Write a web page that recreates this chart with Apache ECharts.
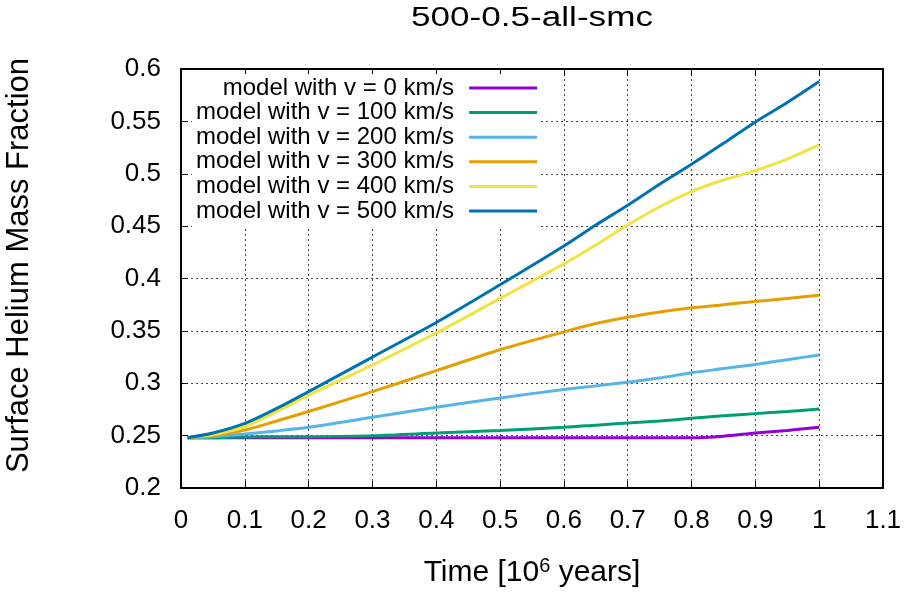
<!DOCTYPE html>
<html>
<head>
<meta charset="utf-8">
<script src="https://cdn.jsdelivr.net/npm/echarts@6/dist/echarts.min.js"></script>
<style>
html,body{margin:0;padding:0;background:#fff;}
#chart{width:906px;height:599px;}
</style>
</head>
<body>
<div id="chart"></div>
<script>
const chartTitle = '500-0.5-all-smc';
const seriesNames = ['model with v = 0 km/s','model with v = 100 km/s','model with v = 200 km/s','model with v = 300 km/s','model with v = 400 km/s','model with v = 500 km/s'];
const times = [0.01, 0.05, 0.1, 0.15, 0.2, 0.3, 0.4, 0.5, 0.6, 0.65, 0.7, 0.75, 0.8, 0.85, 0.9, 0.95, 1.0];
const v0   = [0.248,0.248,0.248,0.248,0.248,0.248,0.248,0.248,0.248,0.248,0.248,0.248,0.248,0.2495,0.2525,0.255,0.258];
const v100 = [0.248,0.248,0.2488,0.2489,0.249,0.2500,0.2525,0.255,0.258,0.260,0.262,0.264,0.2665,0.269,0.271,0.273,0.2755];
const v200 = [0.248,0.249,0.2516,0.2545,0.258,0.2675,0.277,0.286,0.294,0.2975,0.301,0.305,0.310,0.314,0.318,0.3225,0.327];
const v300 = [0.248,0.250,0.2553,0.264,0.273,0.292,0.312,0.332,0.349,0.357,0.363,0.368,0.372,0.375,0.378,0.381,0.384];
const v400 = [0.248,0.251,0.2585,0.273,0.2885,0.3175,0.348,0.381,0.414,0.432,0.451,0.4685,0.483,0.494,0.503,0.514,0.5275];
const v500 = [0.248,0.2525,0.2617,0.276,0.292,0.325,0.358,0.394,0.431,0.451,0.470,0.490,0.509,0.529,0.5495,0.568,0.588];
const xTicks = [0,0.1,0.2,0.3,0.4,0.5,0.6,0.7,0.8,0.9,1.0,1.1];
const yTicks = [0.2,0.25,0.3,0.35,0.4,0.45,0.5,0.55,0.6];

const colors = ['#9400d3','#009e73','#56b4e9','#e69f00','#f0e442','#0072b2'];
const allValues = [v0,v100,v200,v300,v400,v500];
const FONT = '"Liberation Sans", Arial, Helvetica, sans-serif';

const chart = echarts.init(document.getElementById('chart'), null, {renderer:'canvas'});

const series = allValues.map((vals, i) => ({
  name: seriesNames[i],
  type: 'line',
  data: times.map((t, k) => [t, vals[k]]),
  symbol: 'none',
  smooth: 0.3,
  lineStyle: {color: colors[i], width: 3},
  itemStyle: {color: colors[i]},
  z: 2 + i,
  animation: false
}));

const gridLine = {show: true, lineStyle: {color: '#444', width: 1, type: [2, 3]}};

const option = {
  animation: false,
  backgroundColor: '#fff',
  graphic: [{
    type: 'text',
    x: 532, y: 19,
    scaleX: 1.3,
    style: {text: chartTitle, font: '27px ' + FONT, fill: '#000', align: 'center', verticalAlign: 'middle'}
  }],
  grid: {left: 181, right: 23, top: 69, bottom: 111, containLabel: false, outerBoundsMode: 'none'},
  legend: {
    orient: 'vertical',
    align: 'right',
    left: 192,
    top: 74,
    padding: [2, 4, 6, 4],
    backgroundColor: '#fff',
    itemWidth: 68,
    itemHeight: 12,
    itemGap: 0.6,
    z: 10,
    textStyle: {fontFamily: FONT, fontSize: 24, color: '#000', lineHeight: 24, padding: [0, 10, 0, 0]},
    data: seriesNames.map(n => ({name: n, icon: 'path://M0,0L68,0L68,3L0,3Z'})),
    selectedMode: false
  },
  xAxis: [{
    type: 'value', min: 0, max: 1.1, interval: 0.1, position: 'bottom',
    axisLine: {show: true, onZero: false, lineStyle: {color: '#000', width: 2}},
    axisTick: {show: true, inside: true, length: 7, lineStyle: {color: '#000', width: 1}},
    axisLabel: {margin: 20, fontFamily: FONT, fontSize: 26, color: '#000',
      formatter: v => { const r = Math.round(v*10)/10; return xTicks.indexOf(r) >= 0 ? String(r) : ''; }},
    splitLine: gridLine,
    name: '{a|Time [10}{s|6}{a| years]}',
    nameLocation: 'middle', nameGap: 68,
    nameTextStyle: {rich: {a: {fontFamily: FONT, fontSize: 30, color: '#000'}, s: {fontFamily: FONT, fontSize: 20, color: '#000', padding: [0, 0, 14, 0]}}}
  }, {
    type: 'value', min: 0, max: 1.1, interval: 0.1, position: 'top',
    axisLine: {show: true, onZero: false, lineStyle: {color: '#000', width: 2}},
    axisTick: {show: true, inside: true, length: 7, lineStyle: {color: '#000', width: 1}},
    axisLabel: {show: false}, splitLine: {show: false}
  }],
  yAxis: [{
    type: 'value', min: 0.2, max: 0.6, interval: 0.05, position: 'left',
    axisLine: {show: true, onZero: false, lineStyle: {color: '#000', width: 2}},
    axisTick: {show: true, inside: true, length: 7, lineStyle: {color: '#000', width: 1}},
    axisLabel: {margin: 20, fontFamily: FONT, fontSize: 26, color: '#000',
      formatter: v => { const r = Math.round(v*100)/100; return yTicks.indexOf(r) >= 0 ? String(r) : ''; }},
    splitLine: gridLine,
    name: 'Surface Helium Mass Fraction',
    nameLocation: 'middle', nameGap: 146,
    nameTextStyle: {fontFamily: FONT, fontSize: 31, color: '#000', padding: [0, 0, 0, 26]}
  }, {
    type: 'value', min: 0.2, max: 0.6, interval: 0.05, position: 'right',
    axisLine: {show: true, onZero: false, lineStyle: {color: '#000', width: 2}},
    axisTick: {show: true, inside: true, length: 7, lineStyle: {color: '#000', width: 1}},
    axisLabel: {show: false}, splitLine: {show: false}
  }],
  series: series
};
chart.setOption(option);
</script>
</body>
</html>
